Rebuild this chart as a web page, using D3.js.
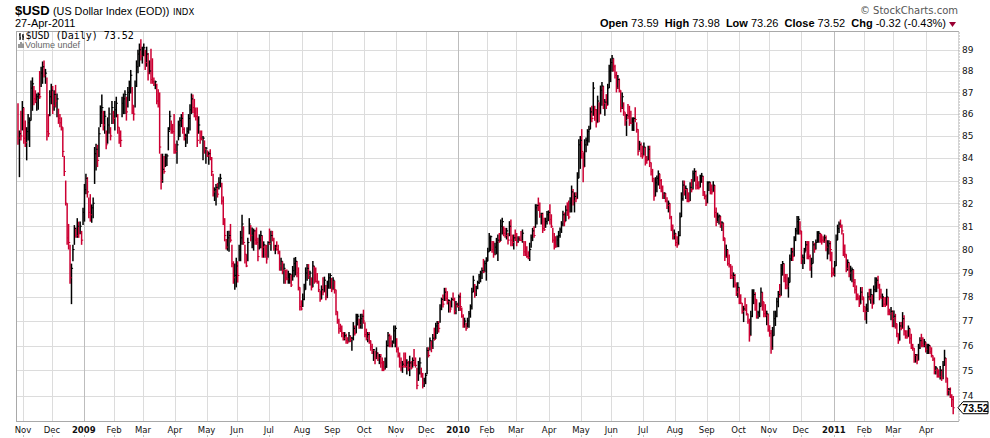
<!DOCTYPE html>
<html>
<head>
<meta charset="utf-8">
<script src="https://cdnjs.cloudflare.com/ajax/libs/d3/7.8.5/d3.min.js"></script>
<style>
  html, body { margin: 0; padding: 0; background: #fff; }
  svg { display: block; }
</style>
</head>
<body>
<div id="chart"></div>
<script>
// header / quote
const symbol = "$USD";
const fullName = "(US Dollar Index (EOD))";
const exchange = "INDX";
const asOf = "27-Apr-2011";
const quote = { Open: "73.59", High: "73.98", Low: "73.26", Close: "73.52" };
const change = "-0.32 (-0.43%)";
const lastPrice = 73.52;

// tick labels
const yTicks = [74, 75, 76, 77, 78, 79, 80, 81, 82, 83, 84, 85, 86, 87, 88, 89];
const monthNames = ["Jan", "Feb", "Mar", "Apr", "May", "Jun", "Jul", "Aug", "Sep", "Oct", "Nov", "Dec"];

// daily bars, starting 28-Oct-2008 (weekdays, no Jan 1 / Dec 25)
const priorClose = 85.6;
const highs = [
86.5,85.25,86.15,86.6,86.3,85.7,85.4,86.0,85.85,87.55,
87.7,87.3,87.1,86.95,87.0,88.0,88.2,88.45,88.5,88.1,
87.7,86.0,87.1,87.4,87.3,87.1,87.35,86.95,86.25,86.0,
85.85,85.4,84.1,83.0,82.0,81.1,80.2,79.4,80.2,81.05,
80.95,81.35,81.2,81.2,80.8,81.8,82.85,83.3,83.15,82.25,
82.4,81.95,82.25,84.5,84.65,84.6,85.4,86.4,86.9,86.15,
86.15,85.25,85.85,86.3,85.4,86.6,86.15,86.6,86.8,86.0,
85.4,85.25,86.8,86.95,87.1,86.8,87.25,87.55,88.05,87.25,
86.4,87.55,88.5,89.0,89.3,89.5,89.15,89.3,89.0,89.15,
88.85,88.5,89.05,88.6,87.7,87.55,87.4,87.15,87.0,84.2,
84.2,84.1,84.2,84.2,85.4,86.15,85.7,85.55,86.0,84.65,
84.8,85.7,85.85,86.0,86.1,85.4,85.1,85.4,86.0,86.45,
86.95,86.9,86.7,86.3,86.3,85.9,85.25,85.25,85.0,84.8,
84.5,84.35,84.3,84.4,84.05,83.3,82.7,82.85,82.9,83.15,
83.3,82.9,82.3,81.35,80.45,80.8,80.8,81.1,80.2,79.5,
79.4,79.65,79.5,80.2,80.8,81.5,81.0,80.2,79.8,80.5,
81.35,81.05,80.95,80.9,80.85,80.95,80.5,80.65,80.8,80.6,
80.35,80.2,80.2,80.35,80.9,80.8,80.8,80.5,80.2,80.35,
80.2,79.95,79.65,79.5,79.4,79.15,79.15,79.1,79.0,78.95,
79.3,79.65,79.68,79.51,79.24,78.4,77.86,78.14,78.55,79.24,
79.38,79.38,79.1,78.82,79.51,79.3,79.24,79.0,78.68,78.27,
78.48,78.82,78.85,78.5,78.68,78.99,78.99,78.8,78.82,78.68,
78.3,77.4,77.1,76.89,76.82,76.55,76.55,76.48,76.34,76.55,
76.41,76.35,76.96,76.82,77.3,77.3,77.1,77.3,77.3,77.47,
76.95,76.69,76.55,76.55,76.21,76.07,75.86,75.79,75.93,75.72,
75.66,75.66,75.52,75.38,75.52,76.21,76.55,76.48,76.41,76.21,
76.82,76.82,76.3,75.93,75.72,75.52,75.38,75.72,75.72,75.45,
75.38,75.59,75.38,75.52,75.86,75.52,75.11,75.38,75.52,75.11,
74.9,74.71,74.9,75.93,75.93,76.33,76.2,76.47,76.73,76.93,
77.0,77.0,77.7,77.97,78.1,78.38,78.38,78.24,77.9,77.83,
77.97,78.18,77.97,77.83,77.76,78.1,78.18,77.56,77.28,77.14,
76.93,77.14,77.42,77.69,78.38,78.89,78.54,78.47,78.68,78.96,
79.1,79.24,79.6,79.53,79.67,80.07,80.71,80.6,80.36,80.36,
80.29,80.5,80.64,80.71,81.29,81.37,81.0,80.93,80.93,80.71,
81.22,81.29,80.64,80.64,80.86,80.71,80.57,80.57,80.79,80.86,
80.36,80.36,80.14,79.93,80.29,80.64,80.93,81.0,81.96,81.96,
82.25,82.03,81.59,81.59,81.37,81.37,81.66,81.69,81.96,81.52,
80.93,80.71,80.57,80.6,80.8,80.95,81.22,81.67,81.6,81.9,
82.04,82.12,82.26,82.78,82.63,82.48,82.48,83.37,84.85,85.0,
85.31,84.26,84.85,84.93,85.31,85.46,86.31,86.38,87.48,86.38,
86.23,86.85,86.54,87.32,87.48,87.3,86.69,86.92,87.4,88.29,
88.6,88.76,88.6,88.29,87.97,87.81,87.65,87.1,87.0,86.54,
86.08,86.0,86.46,86.38,86.15,85.85,85.85,86.31,85.62,85.3,
84.78,84.7,84.56,84.7,84.5,84.1,84.56,84.56,83.8,83.52,
83.1,83.15,83.22,83.45,83.3,83.07,82.78,82.48,82.45,82.26,
82.12,82.0,81.45,81.07,80.86,80.71,80.57,80.79,81.6,82.48,
83.0,83.0,82.78,82.65,82.48,82.93,83.07,83.45,83.55,83.45,
83.19,82.97,83.26,83.34,83.2,82.54,82.39,82.97,82.97,82.93,
82.83,82.97,82.8,81.81,81.59,81.51,81.45,81.22,81.15,80.5,
80.21,80.0,79.79,79.38,79.31,79.03,78.96,78.61,78.61,78.4,
78.11,77.75,77.63,77.97,77.7,77.3,77.1,77.43,78.32,78.32,
78.2,77.9,77.43,77.77,78.39,78.2,77.8,77.7,77.43,77.3,
76.83,76.63,76.76,77.43,77.43,77.97,78.25,78.54,79.38,79.51,
79.4,78.96,78.96,78.82,79.79,80.07,80.07,80.57,80.93,81.44,
81.44,81.22,80.8,79.79,80.07,80.36,80.36,80.36,79.79,79.65,
80.36,80.29,80.43,80.79,80.79,80.71,80.64,80.57,80.64,80.6,
80.4,80.4,80.36,79.9,79.24,79.51,80.64,81.07,81.21,81.29,
81.07,80.7,80.21,79.8,79.58,79.45,79.31,79.24,79.15,78.75,
78.48,78.14,78.07,78.41,78.41,78.0,77.6,77.72,78.2,78.34,
78.34,78.1,78.48,78.82,78.82,78.89,78.55,78.34,78.14,78.0,
78.0,78.34,78.0,77.51,77.58,77.44,77.44,77.3,76.9,76.5,
76.96,76.96,77.37,77.24,76.62,76.62,76.82,76.7,76.48,76.07,
75.9,75.66,75.66,76.07,76.34,76.48,76.34,76.27,76.14,76.07,
76.07,76.0,75.93,75.6,75.52,75.18,75.1,75.04,75.18,75.04,
75.38,75.83,75.5,74.7,74.3,74.32,74.05,73.98
];
const lows = [
84.6,83.15,84.8,85.25,84.65,84.5,83.9,84.8,84.5,85.7,
86.15,86.4,86.5,86.15,86.2,86.7,87.25,87.4,87.7,87.4,
84.8,84.95,85.9,86.45,86.0,86.15,86.3,85.85,85.55,85.4,
85.25,84.05,83.2,81.9,80.2,80.0,78.55,77.7,79.5,80.2,
80.5,80.5,80.5,80.65,80.2,81.05,81.2,82.4,82.25,81.35,
81.2,81.15,81.35,82.85,83.45,83.6,84.05,85.4,85.55,85.25,
85.1,84.4,84.65,85.1,84.8,85.55,85.55,85.25,85.85,85.1,
84.65,84.5,85.85,86.0,86.0,85.7,86.3,86.6,86.95,86.0,
85.7,86.3,87.25,87.9,88.2,88.5,88.35,88.7,88.05,88.2,
87.55,87.85,87.4,87.4,87.3,87.15,86.45,86.3,84.2,82.6,
82.9,83.3,83.6,83.65,84.35,85.25,85.1,85.1,84.2,84.2,
83.75,84.8,84.95,85.4,85.1,84.8,84.5,84.65,85.1,85.25,
86.0,86.05,85.85,85.7,84.5,85.1,84.65,84.8,83.9,84.2,
83.75,84.05,83.7,83.9,83.2,82.3,82.1,81.9,82.25,82.6,
82.7,81.95,81.05,80.35,80.0,79.95,79.9,80.3,79.25,78.55,
78.3,78.4,78.6,79.5,79.5,80.2,80.2,79.4,79.25,79.5,
80.65,80.35,80.05,79.95,80.2,80.2,79.5,80.0,80.05,79.65,
79.65,79.65,79.4,79.65,80.2,79.95,80.35,79.95,79.8,79.95,
79.8,79.1,79.1,78.95,78.55,78.55,78.7,78.55,78.55,78.41,
78.68,78.82,78.9,78.82,78.27,77.44,77.44,77.58,77.86,78.3,
78.68,78.75,78.48,78.27,78.4,78.55,78.6,78.55,78.2,77.8,
77.9,78.07,78.2,77.86,77.95,78.34,78.34,78.2,78.3,78.14,
77.24,76.89,76.48,76.55,76.34,76.21,76.21,76.07,76.07,76.14,
76.14,75.79,76.21,76.41,76.5,76.82,76.69,76.69,76.69,76.89,
76.34,76.21,76.14,76.07,75.79,75.66,75.38,75.25,75.45,75.38,
75.25,75.11,74.97,74.97,75.04,75.1,75.95,75.93,75.93,75.93,
76.07,75.93,75.72,75.52,75.11,74.97,74.9,75.11,75.11,74.84,
74.97,74.77,75.04,75.11,75.18,75.11,74.25,74.58,74.84,74.71,
74.28,74.34,74.45,74.85,75.52,75.8,75.73,75.86,76.2,76.27,
76.47,76.53,76.93,77.45,77.56,77.83,77.83,77.69,77.35,77.35,
77.56,77.83,77.28,77.28,77.56,77.42,77.42,77.14,76.73,76.73,
76.6,76.73,76.73,77.14,77.48,78.2,77.97,78.04,78.32,78.54,
78.61,78.75,79.0,79.03,78.68,79.5,79.9,79.93,79.86,79.65,
79.75,79.79,79.51,80.29,80.36,80.64,80.57,80.5,80.43,80.21,
80.57,80.14,80.14,80.0,80.36,80.14,80.29,80.36,80.36,80.29,
79.72,79.72,79.65,79.58,79.51,80.07,80.36,80.5,80.93,81.07,
81.66,81.37,81.07,80.71,80.79,80.93,81.07,81.22,81.07,80.93,
80.29,80.0,80.07,80.1,80.1,80.5,80.71,81.0,81.0,81.22,
81.45,81.3,81.6,81.6,81.9,81.6,82.04,82.19,83.1,83.52,
83.97,82.93,83.6,84.26,84.56,84.7,85.31,85.62,85.92,85.69,
85.38,85.6,85.62,86.0,86.38,86.23,85.92,86.23,86.4,87.2,
87.48,87.97,87.97,87.65,87.0,87.16,87.0,86.08,86.23,85.92,
85.46,85.0,85.77,85.46,85.55,85.23,85.23,85.62,85.15,84.12,
84.34,84.04,83.97,84.12,83.67,83.75,83.9,83.6,83.22,82.93,
82.11,82.3,82.48,82.78,82.63,82.48,82.19,82.19,82.04,81.75,
81.6,81.3,80.79,80.43,80.43,80.14,80.07,80.2,80.57,81.4,
82.11,82.34,82.19,82.04,82.04,82.1,82.48,82.6,82.95,82.61,
82.61,82.6,82.69,82.9,82.32,82.17,81.88,82.0,82.54,82.39,
82.39,82.5,81.37,81.0,81.15,81.07,80.93,80.79,80.36,79.51,
79.65,79.31,79.24,78.75,78.75,78.39,78.39,78.04,77.97,77.7,
77.7,77.3,76.96,77.43,77.23,76.89,76.16,76.4,77.16,77.7,
77.43,77.1,77.1,77.16,77.6,77.43,77.16,77.16,76.83,76.56,
76.36,75.67,75.83,76.4,76.8,77.16,77.57,77.97,78.05,78.89,
78.61,78.32,78.32,77.97,78.6,79.51,79.51,79.7,80.36,80.64,
80.64,80.64,79.38,79.17,79.38,79.93,79.58,79.58,79.1,78.8,
79.4,79.86,80.0,80.29,80.29,80.29,80.21,80.29,80.29,79.93,
79.58,79.79,79.5,78.82,78.89,78.85,79.3,80.4,80.71,80.93,
80.64,79.72,79.65,79.03,79.1,78.82,78.68,78.61,78.41,78.14,
77.86,77.86,77.58,77.7,77.86,77.37,77.03,76.89,77.37,77.86,
77.72,77.51,77.7,78.2,78.2,78.34,77.86,77.93,77.58,77.58,
77.58,77.65,77.24,77.24,77.03,76.75,76.75,76.69,76.34,76.07,
76.2,76.62,76.69,76.41,76.28,76.28,76.35,76.07,75.86,75.79,
75.31,75.31,75.25,75.4,75.86,75.93,75.93,75.93,75.72,75.66,
75.66,75.66,75.52,75.38,74.84,74.84,74.71,74.71,74.64,74.58,
74.65,75.18,74.51,74.0,74.0,73.9,73.55,73.26
];
const closes = [
84.9,85.1,85.0,86.3,84.9,84.7,85.2,85.6,85.7,87.2,
87.4,86.7,86.6,86.8,86.9,86.8,87.9,88.2,87.8,87.9,
85.2,85.1,86.8,87.1,86.4,86.9,86.6,86.7,85.8,85.6,
85.4,84.3,83.4,82.0,80.5,80.3,78.8,79.2,80.0,80.9,
80.6,81.0,80.7,81.0,80.4,81.6,82.6,83.1,82.5,81.6,
81.5,81.8,82.0,84.2,84.4,83.9,85.1,86.1,86.3,85.5,
85.9,84.6,85.5,86.0,85.0,86.3,85.8,86.2,86.5,85.4,
85.0,84.8,86.5,86.7,86.9,86.1,87.0,87.3,87.8,86.4,
86.0,87.3,88.2,88.8,89.0,88.7,88.95,89.1,88.4,88.8,
87.9,88.0,87.6,87.5,87.4,87.5,86.6,86.5,84.5,83.0,
83.5,83.4,84.0,84.1,85.2,85.9,85.3,85.2,84.4,84.3,
84.6,85.5,85.7,85.8,85.3,84.95,85.0,85.2,85.8,86.2,
86.7,86.3,86.0,85.9,84.8,85.5,84.9,84.85,84.9,84.4,
84.45,84.1,84.2,84.0,83.4,82.5,82.6,82.7,82.4,82.9,
83.1,82.1,81.3,80.6,80.1,80.5,80.6,80.4,79.4,78.8,
78.9,79.3,78.9,80.0,80.5,81.1,80.3,79.8,79.3,80.3,
81.1,80.6,80.7,80.8,80.4,80.3,79.7,80.4,80.6,80.1,
80.2,79.8,79.6,80.3,80.25,80.6,80.4,80.1,80.15,80.0,
79.9,79.3,79.5,79.1,79.2,78.8,78.75,78.9,78.95,78.5,
79.1,79.4,79.5,79.0,78.4,77.6,77.5,77.9,78.3,79.0,
79.2,78.9,79.0,78.4,79.3,78.7,78.65,78.6,78.3,77.9,
78.3,78.2,78.7,78.0,78.5,78.8,78.9,78.3,78.7,78.3,
77.4,77.0,76.7,76.6,76.5,76.3,76.4,76.2,76.15,76.4,
76.25,76.3,76.7,76.5,77.0,77.2,76.85,77.1,77.2,77.0,
76.45,76.3,76.45,76.2,75.95,75.8,75.83,75.5,75.7,75.5,
75.55,75.3,75.1,75.05,75.15,76.0,76.4,76.3,76.1,76.15,
76.6,76.7,75.85,75.6,75.3,75.15,75.25,75.2,75.15,75.3,
75.1,75.3,75.1,75.4,75.3,75.2,74.4,74.9,75.3,74.8,
74.5,74.6,74.8,75.8,75.6,76.2,75.9,76.3,76.25,76.8,
76.9,76.7,77.5,77.9,77.7,78.2,77.95,77.8,77.85,77.5,
77.9,77.88,77.4,77.7,77.6,78.0,77.6,77.2,76.8,77.0,
76.7,77.0,77.3,77.6,78.2,78.7,78.2,78.35,78.6,78.85,
79.0,79.1,79.05,79.4,79.5,79.9,80.5,80.55,80.0,79.8,
80.1,80.3,80.4,80.35,81.0,81.2,80.7,80.6,80.8,80.4,
81.0,80.4,80.3,80.5,80.45,80.3,80.45,80.4,80.38,80.7,
79.9,79.8,79.7,79.65,80.0,80.5,80.8,80.6,81.8,81.9,
81.8,81.5,81.55,80.9,80.85,81.2,81.5,81.6,81.3,81.0,
80.4,80.2,80.15,80.4,80.6,80.85,81.1,81.5,81.2,81.7,
81.6,81.4,82.0,82.5,82.1,82.3,82.2,83.1,84.6,84.8,
84.3,83.6,84.6,84.8,85.2,85.3,86.1,85.8,87.2,86.2,
85.6,86.6,86.0,87.1,87.3,86.5,86.55,86.4,87.2,88.0,
88.4,88.6,88.2,87.8,87.2,87.6,87.1,86.3,86.8,86.1,
85.7,85.95,85.9,85.6,85.58,85.7,85.8,85.75,85.3,84.3,
84.6,84.2,84.1,84.5,84.0,83.9,84.4,83.8,83.4,83.1,
82.3,82.9,83.1,83.3,83.0,82.7,82.4,82.45,82.1,81.9,
82.0,81.4,80.9,80.6,80.7,80.3,80.2,80.6,81.4,82.2,
82.8,82.6,82.65,82.2,82.1,82.7,82.6,83.3,83.4,82.8,
82.7,82.69,83.1,83.2,82.5,82.3,82.0,82.9,82.93,82.6,
82.5,82.8,81.6,81.2,81.4,81.45,81.1,81.15,80.5,79.7,
80.0,79.4,79.35,78.9,78.85,78.9,78.5,78.2,78.4,77.9,
77.75,77.4,77.5,77.45,77.3,77.0,76.4,77.2,78.0,78.1,
77.9,77.2,77.35,77.6,78.2,77.8,77.3,77.25,77.3,76.65,
76.5,75.9,76.4,77.1,77.2,77.8,78.1,78.05,79.2,79.4,
78.8,78.5,78.45,78.6,79.6,79.9,79.7,80.4,80.8,81.2,
81.3,80.8,79.6,79.65,79.9,80.2,79.8,79.7,79.3,79.4,
80.2,80.0,80.3,80.6,80.7,80.65,80.4,80.35,80.5,80.1,
80.15,80.25,80.0,79.0,78.95,79.3,80.4,80.9,81.1,81.0,
80.8,79.9,79.8,79.2,79.45,79.0,79.1,79.15,78.6,78.3,
78.0,77.95,77.7,78.2,78.0,77.6,77.4,77.5,78.0,77.95,
78.1,77.7,78.3,78.6,78.7,78.5,78.0,77.95,78.0,77.7,
77.65,78.0,77.4,77.3,77.4,77.1,77.2,76.9,76.5,76.2,
76.8,76.7,77.1,76.6,76.4,76.35,76.7,76.3,76.0,75.9,
75.6,75.62,75.4,75.9,76.2,76.1,76.0,76.15,75.85,75.95,
76.0,75.75,75.6,75.45,75.0,75.1,74.8,74.75,75.0,74.7,
75.2,75.5,74.7,74.2,74.25,74.0,73.84,73.52
];

const n = Math.min(highs.length, lows.length, closes.length);

// trading days for the bars
const days = [];
for (let d = new Date(2008, 9, 28); days.length < n; d.setDate(d.getDate() + 1)) {
  const wd = d.getDay();
  if (wd === 0 || wd === 6) continue;
  if (d.getMonth() === 0 && d.getDate() === 1) continue;
  if (d.getMonth() === 11 && d.getDate() === 25) continue;
  days.push(new Date(d));
}

const W = 990, H = 438;
const L = 17, R = 959, T = 31, B = 421;
const red = "#cc0033";
const gridColor = "#dcdcdc";

const svg = d3.select("#chart").append("svg")
  .attr("width", W).attr("height", H)
  .attr("viewBox", `0 0 ${W} ${H}`);

const x = d3.scaleLinear().domain([0, n - 1]).range([18, 953.2]);
const y = d3.scaleLog().domain([73.0, 89.9]).range([B, T]);

// month boundaries
const monthStarts = [];
days.forEach((d, i) => {
  if (i > 0 && d.getMonth() !== days[i - 1].getMonth()) monthStarts.push(i);
});

const grid = svg.append("g");
grid.selectAll("line.h").data(yTicks).join("line")
  .attr("x1", L).attr("x2", R)
  .attr("y1", d => Math.round(y(d)) + 0.5).attr("y2", d => Math.round(y(d)) + 0.5)
  .attr("stroke", gridColor).attr("stroke-width", 1);
grid.selectAll("line.v").data(monthStarts).join("line")
  .attr("x1", i => Math.round(x(i - 0.5)) + 0.5).attr("x2", i => Math.round(x(i - 0.5)) + 0.5)
  .attr("y1", T).attr("y2", B)
  .attr("stroke", i => days[i].getMonth() === 0 ? "#bdbdbd" : gridColor)
  .attr("stroke-width", 1);

// frame
svg.append("rect").attr("x", L - 0.5).attr("y", T + 0.5)
  .attr("width", R - L + 0.5).attr("height", B - T)
  .attr("fill", "none").attr("stroke", "#a9a9a9");
svg.append("line").attr("x1", R + 0.5).attr("x2", R + 0.5).attr("y1", T).attr("y2", B + 1)
  .attr("stroke", "#ffffff").attr("stroke-width", 1.2).attr("stroke-dasharray", "1,2");

// bars
const idx = d3.range(n);
const barColor = i => closes[i] < (i === 0 ? priorClose : closes[i - 1]) ? red : "#000";
const bars = svg.append("g");
bars.selectAll("line.hl").data(idx).join("line")
  .attr("x1", i => x(i)).attr("x2", i => x(i))
  .attr("y1", i => y(highs[i])).attr("y2", i => y(lows[i]))
  .attr("stroke", barColor).attr("stroke-width", 1.5);
bars.selectAll("line.cl").data(idx).join("line")
  .attr("x1", i => x(i)).attr("x2", i => x(i) + 1.6)
  .attr("y1", i => y(closes[i])).attr("y2", i => y(closes[i]))
  .attr("stroke", barColor).attr("stroke-width", 1.1);

// right axis labels
svg.append("g").selectAll("text").data(yTicks).join("text")
  .attr("x", 962).attr("y", d => y(d) + 3.3)
  .attr("font-family", "DejaVu Sans").attr("font-size", 9).attr("fill", "#111")
  .text(d => d);

// bottom axis labels
const xl = svg.append("g").attr("font-family", "DejaVu Sans").attr("font-size", 8.5).attr("fill", "#111");
const labelIdx = monthStarts.slice();
xl.selectAll("text").data(labelIdx).join("text")
  .attr("x", i => x(i - 0.5)).attr("y", 433)
  .attr("text-anchor", "middle")
  .attr("font-weight", i => days[i].getMonth() === 0 ? "bold" : "normal")
  .text(i => days[i].getMonth() === 0 ? days[i].getFullYear() : monthNames[days[i].getMonth()]);
svg.append("g").selectAll("line").data(labelIdx).join("line")
  .attr("x1", i => Math.round(x(i - 0.5)) + 0.5).attr("x2", i => Math.round(x(i - 0.5)) + 0.5)
  .attr("y1", 435).attr("y2", 437).attr("stroke", "#bbb");

// last price marker
const yp = y(lastPrice);
svg.append("path")
  .attr("d", `M958,${yp} L963,${yp - 6} L988,${yp - 6} L988,${yp + 6} L963,${yp + 6} Z`)
  .attr("fill", "#fff").attr("stroke", "#000").attr("stroke-width", 1);
svg.append("text").attr("x", 975.5).attr("y", yp + 4)
  .attr("text-anchor", "middle").attr("font-family", "Liberation Sans")
  .attr("font-weight", "bold").attr("font-size", 10.5).text(lastPrice.toFixed(2));

// header
const hd = svg.append("g").attr("font-family", "Liberation Sans").attr("fill", "#000");
hd.append("text").attr("x", 15).attr("y", 15).attr("font-size", 13).attr("font-weight", "bold").text(symbol);
hd.append("text").attr("x", 53).attr("y", 15).attr("font-size", 10.8).text(fullName);
hd.append("text").attr("x", 173).attr("y", 15).attr("font-family", "DejaVu Sans").attr("font-size", 8.5).text(exchange);
hd.append("text").attr("x", 15).attr("y", 27).attr("font-size", 11).text(asOf);
hd.append("text").attr("x", 958).attr("y", 14).attr("text-anchor", "end")
  .attr("font-family", "DejaVu Sans").attr("font-size", 10).attr("fill", "#555")
  .text("\u00a9 StockCharts.com");

const q = hd.append("text").attr("x", 946).attr("y", 27).attr("text-anchor", "end")
  .attr("font-size", 11).attr("xml:space", "preserve");
Object.entries(quote).forEach(([k, v], j) => {
  q.append("tspan").attr("font-weight", "bold").text((j ? "  " : "") + k + " ");
  q.append("tspan").text(v);
});
q.append("tspan").attr("font-weight", "bold").text("  Chg ");
q.append("tspan").text(change);
hd.append("path").attr("d", "M949,22 L956,22 L952.5,27 Z").attr("fill", "#990033");

// legend inside plot
const lg = svg.append("g");
lg.append("path").attr("d", "M20,33 V40 M19,35 H20 M20,38 H21 M23,34 V40 M22,36 H23 M23,37 H24")
  .attr("stroke", "#000").attr("stroke-width", 1.2).attr("fill", "none");
lg.append("text").attr("x", 25.5).attr("y", 39).attr("font-family", "DejaVu Sans Mono")
  .attr("font-size", 10).text(`${symbol} (Daily) ${lastPrice.toFixed(2)}`);
lg.append("path").attr("d", "M19,48 V44 M21,48 V42 M23,48 V43.5")
  .attr("stroke", "#777").attr("stroke-width", 1.5);
lg.append("text").attr("x", 25).attr("y", 48).attr("font-family", "Liberation Sans")
  .attr("font-size", 9).attr("fill", "#666").text("Volume undef");
</script>
</body>
</html>
